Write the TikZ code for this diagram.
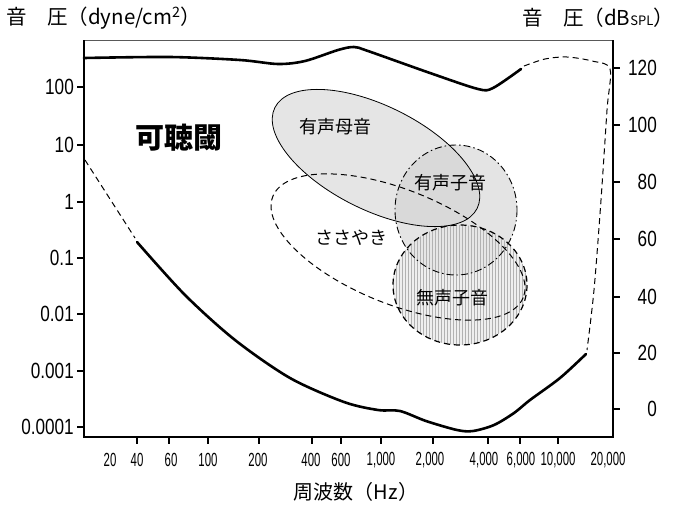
\documentclass[tikz,border=0pt]{standalone}
\usepackage{fontspec}
\setmainfont{Noto Sans CJK JP}
\newfontfamily\numfont[FakeStretch=0.78]{Liberation Sans}
\newfontfamily\hzfont[FakeStretch=0.6]{Liberation Sans}
\usetikzlibrary{patterns}

\tikzset{
  curve/.style={line width=2.6pt, line cap=round},
  dashcurve/.style={line width=1pt, dash pattern=on 6pt off 4pt},
  numlab/.style={font=\numfont\fontsize{22}{22}\selectfont, inner sep=0pt},
  hzlab/.style={font=\hzfont\fontsize{19}{19}\selectfont, inner sep=0pt},
  jlab/.style={font=\fontsize{18}{18}\selectfont, inner sep=0pt},
}

\begin{document}
\begin{tikzpicture}[x=1pt, y=-1pt]
  \useasboundingbox (0,0) rectangle (676,504);

  % areas
  \fill[gray!20, rotate around={-26.5:(376,158)}] (376,158) ellipse [x radius=113, y radius=52];
  \fill[gray!35, fill opacity=0.6] (456,210) ellipse [x radius=61, y radius=65];
  \fill[gray!18, fill opacity=0.7] (460,285) ellipse [x radius=67, y radius=60];
  \fill[pattern=vertical lines, pattern color=gray!60] (460,285) ellipse [x radius=67, y radius=60];

  % outlines
  \draw[line width=0.8pt, rotate around={-26.5:(376,158)}] (376,158) ellipse [x radius=113, y radius=52];
  \draw[line width=0.9pt, dash pattern=on 7pt off 3pt on 1.5pt off 3pt] (456,210) ellipse [x radius=61, y radius=65];
  \draw[dashcurve, rotate around={-22:(398,247)}] (398,247) ellipse [x radius=135, y radius=57];
  \draw[dashcurve, line width=1.2pt] (460,285) ellipse [x radius=67, y radius=60];

  % frame
  \draw[line width=1pt, gray!70!black] (84,40) -- (613,40);
  \draw[line width=2pt] (84,40) -- (84,437) -- (613,437) -- (613,40);

  % thresholds
  \draw[curve] plot[smooth] coordinates {(84,58) (170,57) (240,60) (278,64) (305,61) (338,50) (354,47) (368,51) (430,73) (478,89) (493,88) (521,69)};
  \draw[dashcurve] plot[smooth] coordinates {(524,66) (545,59) (567,57) (592,61) (610,69) (607,110) (601,200) (594,290) (587,350)};
  \draw[curve] plot[smooth] coordinates {(137,242) (185,295) (235,340) (290,378) (344,402) (378,410) (400,411) (426,421) (457,430) (473,431) (494,425) (514,413) (530,400) (560,378) (586,354)};
  \draw[dashcurve] (85,160) -- (135,238);

  % left axis
  \foreach \v/\y in {100/87, 10/145, 1/202, 0.1/258, 0.01/314, 0.001/371, 0.0001/427} {
    \draw[line width=1.2pt] (77,\y) -- (84,\y);
    \node[numlab, anchor=east] (L\y) at (74,\y) {\v};
  }
  % right axis
  \foreach \v/\y in {120/68, 100/125, 80/182, 60/239, 40/297, 20/353, 0/409} {
    \draw[line width=1.2pt] (613,\y) -- (620,\y);
    \node[numlab, anchor=east] (R\y) at (657,\y) {\v};
  }
  % bottom axis
  \foreach \x in {137,169,208,259,312,341,381,433,488,520,558}
    \draw[line width=1.2pt] (\x,437) -- (\x,444);
  \foreach \v/\x in {20/110, 40/137, 60/171, 100/208, 200/258, 400/311, 600/341, {1,000}/381, {2,000}/430, {4,000}/484, {6,000}/521, {10,000}/558, {20,000}/608}
    \node[hzlab] (B\x) at (\x,460) {\v};

  % axis titles
  \node[font=\fontsize{20.5}{20.5}\selectfont, inner sep=0pt, anchor=west] (ylab) at (6,18) {音\hspace{1em}圧（dyne/cm\textsuperscript{2}）};
  \node[font=\fontsize{20.5}{20.5}\selectfont, inner sep=0pt, anchor=east] (y2lab) at (674,18) {音\hspace{1em}圧（dB{\fontsize{13}{13}\selectfont SPL}）};
  \node[font=\fontsize{20}{20}\selectfont, inner sep=0pt] (xlab) at (356,492) {周波数（Hz）};

  % regions
  \node[font=\bfseries\fontsize{29}{29}\selectfont, inner sep=0pt] (kachou) at (179,138) {可聴閾};
  \node[jlab] (boin) at (335,127) {有声母音};
  \node[jlab] (yuusei) at (450,183) {有声子音};
  \node[jlab] (sasayaki) at (351,238) {ささやき};
  \node[jlab] (musei) at (452,298) {無声子音};
\end{tikzpicture}
\end{document}
